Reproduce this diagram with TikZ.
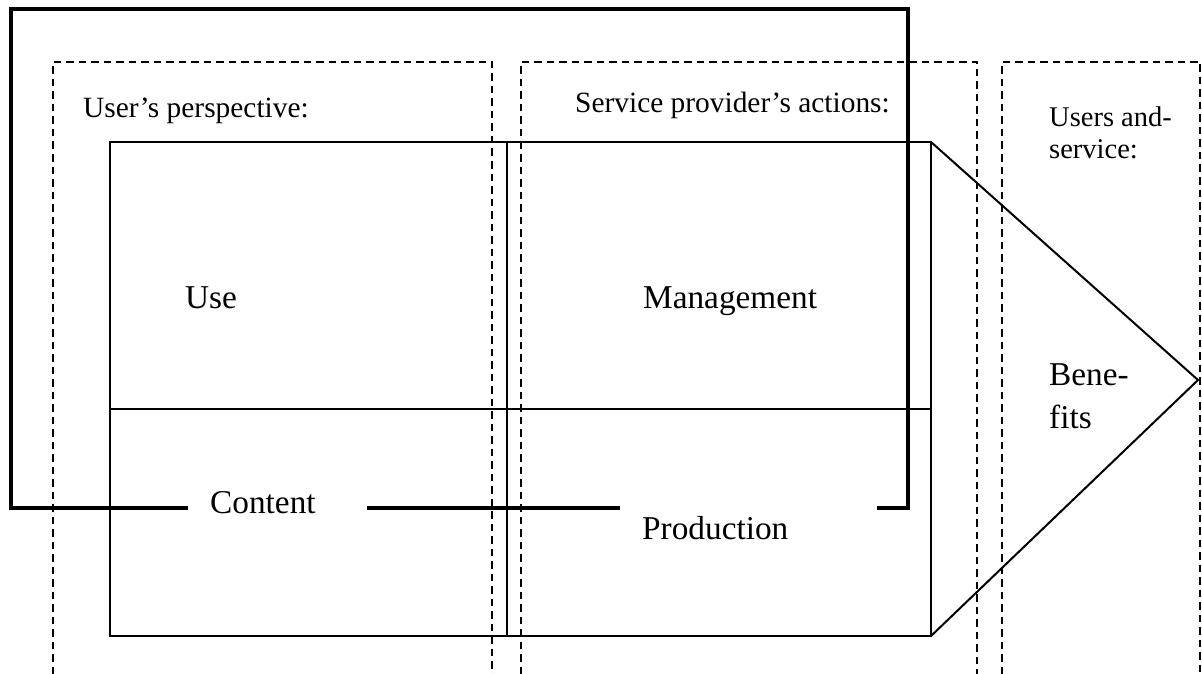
\documentclass[tikz,border=0pt]{standalone}
\usepackage{fontspec}
\setmainfont{Liberation Serif}
\begin{document}
\begin{tikzpicture}[x=1pt,y=-1pt,
  frame/.style={line width=3.1pt},
  boxline/.style={line width=2.9pt},
  arrowline/.style={line width=2pt},
  dashbox/.style={line width=2.8pt, dash pattern=on 7.5pt off 5pt},
  small/.style={font=\fontsize{29.4}{32}\selectfont, inner sep=0pt, anchor=base west},
  smaller/.style={font=\fontsize{28.5}{32}\selectfont, inner sep=0pt, anchor=base west},
  big/.style={font=\fontsize{33.3}{38}\selectfont, inner sep=0pt, anchor=base west}]
\useasboundingbox (0,0) rectangle (1202,674);
% coordinates
\coordinate (fTL) at (11,9);
\coordinate (fTR) at (908,9);
\coordinate (fBL) at (11,508);
\coordinate (fBR) at (908,508);
\coordinate (g1a) at (188,508);
\coordinate (g1b) at (367,508);
\coordinate (g2a) at (620,508);
\coordinate (g2b) at (877,508);
\coordinate (rTL) at (110,142);
\coordinate (rTR) at (931,142);
\coordinate (rBL) at (110,636);
\coordinate (rBR) at (931,636);
\coordinate (tip) at (1198,380);
\coordinate (vT) at (507,142);
\coordinate (vB) at (507,636);
\coordinate (hL) at (110,409);
\coordinate (hR) at (931,409);
% dashed boxes
\draw[dashbox] (53,674) -- (53,62) -- (492,62) -- (492,674);
\draw[dashbox] (521,674) -- (521,62) -- (977,62) -- (977,674);
\draw[dashbox] (1002,674) -- (1002,62) -- (1200,62) -- (1200,674);
% outer frame
\draw[frame] (g1a) -- (fBL) -- (fTL) -- (fTR) -- (fBR) -- (g2b);
\draw[frame] (g1b) -- (g2a);
% inner rectangle
\draw[boxline] (rTL) rectangle (rBR);
\draw[boxline] (vT) -- (vB);
\draw[boxline] (hL) -- (hR);
% arrow triangle
\draw[arrowline] (rTR) -- (tip) -- (rBR);
% texts
\node[small] (up) at (83,118) {User’s perspective:};
\node[small] (spa) at (575,113) {Service provider’s actions:};
\node[smaller] (ua) at (1049,127) {Users and-};
\node[smaller] (sv) at (1049,158) {service:};
\node[big] (use) at (185,308) {Use};
\node[big] (man) at (643,308) {Management};
\node[big] (ben) at (1049,385) {Bene-};
\node[big] (fit) at (1049,428) {fits};
\node[big] (con) at (210,513) {Content};
\node[big] (pro) at (642,539) {Production};
\end{tikzpicture}
\end{document}
